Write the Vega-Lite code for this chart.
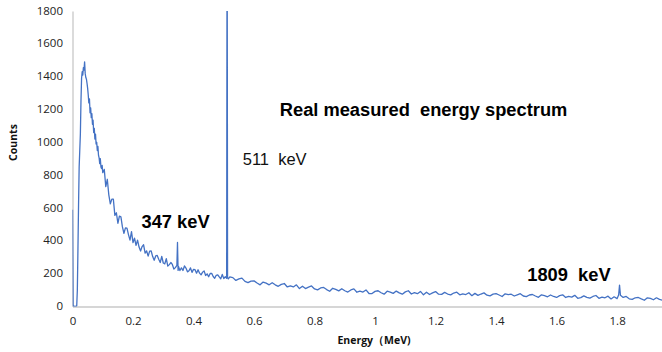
{
  "$schema": "https://vega.github.io/schema/vega-lite/v6.json",
  "autosize": "none",
  "width": 590,
  "height": 295.5,
  "padding": {"left": 72.5, "top": 11, "right": 0, "bottom": 45},
  "background": "white",
  "config": {
    "view": {"stroke": null},
    "axis": {
      "grid": false,
      "ticks": false,
      "domainColor": "#c8c8c8",
      "domainWidth": 1.3,
      "labelFont": "Open Sans",
      "labelFontSize": 11.5,
      "labelColor": "#222222",
      "labelOverlap": false,
      "titleFont": "Open Sans",
      "titleFontWeight": "bold",
      "titleFontSize": 10.5,
      "titleColor": "#111111"
    }
  },
  "data": {
    "values": [
      {"e": 0.000, "c": 590}, {"e": 0.002, "c": 8}, {"e": 0.004, "c": 0}, {"e": 0.006, "c": 0},
      {"e": 0.008, "c": 2}, {"e": 0.010, "c": 0}, {"e": 0.012, "c": 0}, {"e": 0.014, "c": 5},
      {"e": 0.016, "c": 100}, {"e": 0.018, "c": 350}, {"e": 0.020, "c": 620}, {"e": 0.022, "c": 850},
      {"e": 0.024, "c": 950}, {"e": 0.026, "c": 1050}, {"e": 0.028, "c": 1250}, {"e": 0.030, "c": 1390},
      {"e": 0.032, "c": 1430}, {"e": 0.034, "c": 1410}, {"e": 0.036, "c": 1455}, {"e": 0.038, "c": 1440},
      {"e": 0.040, "c": 1490}, {"e": 0.042, "c": 1420}, {"e": 0.044, "c": 1395}, {"e": 0.046, "c": 1385},
      {"e": 0.048, "c": 1360}, {"e": 0.050, "c": 1330}, {"e": 0.052, "c": 1290}, {"e": 0.054, "c": 1240},
      {"e": 0.056, "c": 1265}, {"e": 0.058, "c": 1180}, {"e": 0.060, "c": 1210}, {"e": 0.062, "c": 1150},
      {"e": 0.064, "c": 1175}, {"e": 0.066, "c": 1110}, {"e": 0.068, "c": 1135}, {"e": 0.070, "c": 1060},
      {"e": 0.072, "c": 1085}, {"e": 0.074, "c": 1020}, {"e": 0.076, "c": 1050}, {"e": 0.078, "c": 990},
      {"e": 0.080, "c": 1000}, {"e": 0.082, "c": 950}, {"e": 0.084, "c": 975}, {"e": 0.086, "c": 920},
      {"e": 0.088, "c": 905}, {"e": 0.090, "c": 870}, {"e": 0.092, "c": 900}, {"e": 0.094, "c": 850},
      {"e": 0.096, "c": 840}, {"e": 0.098, "c": 860}, {"e": 0.100, "c": 815},
      {"e": 0.105, "c": 835}, {"e": 0.110, "c": 730}, {"e": 0.115, "c": 775}, {"e": 0.120, "c": 680},
      {"e": 0.125, "c": 625}, {"e": 0.130, "c": 654}, {"e": 0.135, "c": 654}, {"e": 0.140, "c": 555},
      {"e": 0.145, "c": 571}, {"e": 0.150, "c": 507}, {"e": 0.155, "c": 551}, {"e": 0.160, "c": 546},
      {"e": 0.165, "c": 485}, {"e": 0.170, "c": 446}, {"e": 0.175, "c": 479}, {"e": 0.180, "c": 478},
      {"e": 0.185, "c": 438}, {"e": 0.190, "c": 404}, {"e": 0.195, "c": 456}, {"e": 0.200, "c": 389},
      {"e": 0.205, "c": 416}, {"e": 0.210, "c": 372}, {"e": 0.215, "c": 404}, {"e": 0.220, "c": 362},
      {"e": 0.225, "c": 338}, {"e": 0.230, "c": 365}, {"e": 0.235, "c": 376}, {"e": 0.240, "c": 325},
      {"e": 0.245, "c": 339}, {"e": 0.250, "c": 307}, {"e": 0.255, "c": 337}, {"e": 0.260, "c": 338},
      {"e": 0.265, "c": 304}, {"e": 0.270, "c": 282}, {"e": 0.275, "c": 308}, {"e": 0.280, "c": 311},
      {"e": 0.285, "c": 288}, {"e": 0.290, "c": 268}, {"e": 0.295, "c": 305}, {"e": 0.300, "c": 265},
      {"e": 0.305, "c": 260}, {"e": 0.310, "c": 291}, {"e": 0.315, "c": 246}, {"e": 0.320, "c": 255},
      {"e": 0.325, "c": 268}, {"e": 0.330, "c": 256}, {"e": 0.335, "c": 228}, {"e": 0.340, "c": 237},
      {"e": 0.345, "c": 250}, {"e": 0.347, "c": 390}, {"e": 0.349, "c": 220}, {"e": 0.350, "c": 245},
      {"e": 0.355, "c": 219}, {"e": 0.360, "c": 235}, {"e": 0.365, "c": 219}, {"e": 0.370, "c": 247},
      {"e": 0.375, "c": 234}, {"e": 0.380, "c": 211}, {"e": 0.385, "c": 218}, {"e": 0.390, "c": 235},
      {"e": 0.395, "c": 208}, {"e": 0.400, "c": 226}, {"e": 0.405, "c": 224}, {"e": 0.410, "c": 203},
      {"e": 0.415, "c": 224}, {"e": 0.420, "c": 203}, {"e": 0.425, "c": 193}, {"e": 0.430, "c": 209},
      {"e": 0.435, "c": 217}, {"e": 0.440, "c": 189}, {"e": 0.445, "c": 199}, {"e": 0.450, "c": 181},
      {"e": 0.455, "c": 201}, {"e": 0.460, "c": 202}, {"e": 0.465, "c": 183}, {"e": 0.470, "c": 172},
      {"e": 0.475, "c": 190}, {"e": 0.480, "c": 193}, {"e": 0.485, "c": 180}, {"e": 0.490, "c": 169},
      {"e": 0.495, "c": 195}, {"e": 0.500, "c": 170}, {"e": 0.505, "c": 181}, {"e": 0.5095, "c": 172},
      {"e": 0.511, "c": 2600}, {"e": 0.5125, "c": 176}, {"e": 0.515, "c": 168}, {"e": 0.520, "c": 180},
      {"e": 0.53, "c": 176}, {"e": 0.54, "c": 159}, {"e": 0.55, "c": 168}, {"e": 0.56, "c": 173},
      {"e": 0.57, "c": 153}, {"e": 0.58, "c": 145}, {"e": 0.59, "c": 155}, {"e": 0.60, "c": 156},
      {"e": 0.61, "c": 143}, {"e": 0.62, "c": 132}, {"e": 0.63, "c": 149}, {"e": 0.64, "c": 142},
      {"e": 0.65, "c": 132}, {"e": 0.66, "c": 145}, {"e": 0.67, "c": 132}, {"e": 0.68, "c": 123},
      {"e": 0.69, "c": 135}, {"e": 0.70, "c": 140}, {"e": 0.71, "c": 119}, {"e": 0.72, "c": 126},
      {"e": 0.73, "c": 119}, {"e": 0.74, "c": 132}, {"e": 0.75, "c": 109}, {"e": 0.76, "c": 124},
      {"e": 0.77, "c": 109}, {"e": 0.78, "c": 118}, {"e": 0.79, "c": 125}, {"e": 0.80, "c": 107},
      {"e": 0.81, "c": 101}, {"e": 0.82, "c": 113}, {"e": 0.83, "c": 116}, {"e": 0.84, "c": 103},
      {"e": 0.85, "c": 93}, {"e": 0.86, "c": 111}, {"e": 0.87, "c": 104}, {"e": 0.88, "c": 95},
      {"e": 0.89, "c": 108}, {"e": 0.90, "c": 96}, {"e": 0.91, "c": 88}, {"e": 0.92, "c": 101},
      {"e": 0.93, "c": 107}, {"e": 0.94, "c": 87}, {"e": 0.95, "c": 94}, {"e": 0.96, "c": 88},
      {"e": 0.97, "c": 101}, {"e": 0.98, "c": 79}, {"e": 0.99, "c": 79}, {"e": 1.00, "c": 92},
      {"e": 1.01, "c": 96}, {"e": 1.02, "c": 84}, {"e": 1.03, "c": 75}, {"e": 1.04, "c": 93},
      {"e": 1.05, "c": 88}, {"e": 1.06, "c": 80}, {"e": 1.07, "c": 94}, {"e": 1.08, "c": 83},
      {"e": 1.09, "c": 75}, {"e": 1.10, "c": 89}, {"e": 1.11, "c": 96}, {"e": 1.12, "c": 76},
      {"e": 1.13, "c": 84}, {"e": 1.14, "c": 78}, {"e": 1.15, "c": 92}, {"e": 1.16, "c": 71},
      {"e": 1.17, "c": 87}, {"e": 1.18, "c": 73}, {"e": 1.19, "c": 83}, {"e": 1.20, "c": 91},
      {"e": 1.21, "c": 75}, {"e": 1.22, "c": 74}, {"e": 1.23, "c": 86}, {"e": 1.24, "c": 76},
      {"e": 1.25, "c": 71}, {"e": 1.26, "c": 82}, {"e": 1.27, "c": 87}, {"e": 1.28, "c": 71},
      {"e": 1.29, "c": 77}, {"e": 1.30, "c": 73}, {"e": 1.31, "c": 84}, {"e": 1.32, "c": 66},
      {"e": 1.33, "c": 80}, {"e": 1.34, "c": 68}, {"e": 1.35, "c": 76}, {"e": 1.36, "c": 83},
      {"e": 1.37, "c": 69}, {"e": 1.38, "c": 65}, {"e": 1.39, "c": 75}, {"e": 1.40, "c": 78},
      {"e": 1.41, "c": 70}, {"e": 1.42, "c": 61}, {"e": 1.43, "c": 77}, {"e": 1.44, "c": 72},
      {"e": 1.45, "c": 75}, {"e": 1.46, "c": 64}, {"e": 1.47, "c": 71}, {"e": 1.48, "c": 78},
      {"e": 1.49, "c": 64}, {"e": 1.50, "c": 60}, {"e": 1.51, "c": 70}, {"e": 1.52, "c": 73},
      {"e": 1.53, "c": 64}, {"e": 1.54, "c": 56}, {"e": 1.55, "c": 71}, {"e": 1.56, "c": 66},
      {"e": 1.57, "c": 59}, {"e": 1.58, "c": 70}, {"e": 1.59, "c": 61}, {"e": 1.60, "c": 55},
      {"e": 1.61, "c": 66}, {"e": 1.62, "c": 71}, {"e": 1.63, "c": 55}, {"e": 1.64, "c": 61},
      {"e": 1.65, "c": 57}, {"e": 1.66, "c": 68}, {"e": 1.67, "c": 50}, {"e": 1.68, "c": 54},
      {"e": 1.69, "c": 65}, {"e": 1.70, "c": 56}, {"e": 1.71, "c": 51}, {"e": 1.72, "c": 61},
      {"e": 1.73, "c": 67}, {"e": 1.74, "c": 50}, {"e": 1.75, "c": 57}, {"e": 1.76, "c": 53},
      {"e": 1.77, "c": 63}, {"e": 1.78, "c": 46}, {"e": 1.79, "c": 59}, {"e": 1.80, "c": 48},
      {"e": 1.805, "c": 70}, {"e": 1.808, "c": 130}, {"e": 1.811, "c": 68}, {"e": 1.82, "c": 55},
      {"e": 1.83, "c": 61}, {"e": 1.84, "c": 47}, {"e": 1.85, "c": 43}, {"e": 1.86, "c": 53},
      {"e": 1.87, "c": 55}, {"e": 1.88, "c": 46}, {"e": 1.89, "c": 38}, {"e": 1.90, "c": 53},
      {"e": 1.91, "c": 49}, {"e": 1.92, "c": 41}, {"e": 1.93, "c": 53}, {"e": 1.94, "c": 43},
      {"e": 1.95, "c": 38}
    ]
  },
  "encoding": {
    "x": {
      "field": "e", "type": "quantitative",
      "scale": {"domain": [0, 1.95], "nice": false, "zero": true},
      "axis": {"values": [0, 0.2, 0.4, 0.6, 0.8, 1, 1.2, 1.4, 1.6, 1.8], "format": "~g", "labelPadding": 9, "labelOverlap": false, "title": "Energy（MeV)", "titlePadding": 8, "titleX": 301, "labelFlush": false}
    },
    "y": {
      "field": "c", "type": "quantitative",
      "scale": {"domain": [0, 1800], "nice": false},
      "axis": {"values": [0, 200, 400, 600, 800, 1000, 1200, 1400, 1600, 1800], "tickCount": 10, "format": "d", "labelPadding": 10, "labelOverlap": false, "labelFlush": false, "labelBound": false, "title": "Counts", "titleY": 131, "titleX": -54}
    }
  },
  "layer": [
    {
      "mark": {"type": "line", "color": "#4472C4", "strokeWidth": 1.3, "strokeJoin": "round", "clip": true}
    },
    {
      "data": {
        "values": [
          {"e": 0.685, "c": 1162, "t": "Real measured\u00a0 energy spectrum"},
          {"e": 0.228, "c": 481, "t": "347 keV"},
          {"e": 1.503, "c": 157, "t": "1809\u00a0 keV"}
        ]
      },
      "mark": {"type": "text", "align": "left", "baseline": "alphabetic", "font": "Liberation Sans", "fontWeight": "bold", "fontSize": 18.3, "color": "#000000"},
      "encoding": {
        "text": {"field": "t"}
      }
    },
    {
      "data": {
        "values": [
          {"e": 0.5626, "c": 860, "t": "511\u00a0 keV"}
        ]
      },
      "mark": {"type": "text", "align": "left", "baseline": "alphabetic", "font": "Liberation Sans", "fontSize": 16.5, "color": "#111111"},
      "encoding": {
        "text": {"field": "t"}
      }
    }
  ]
}
